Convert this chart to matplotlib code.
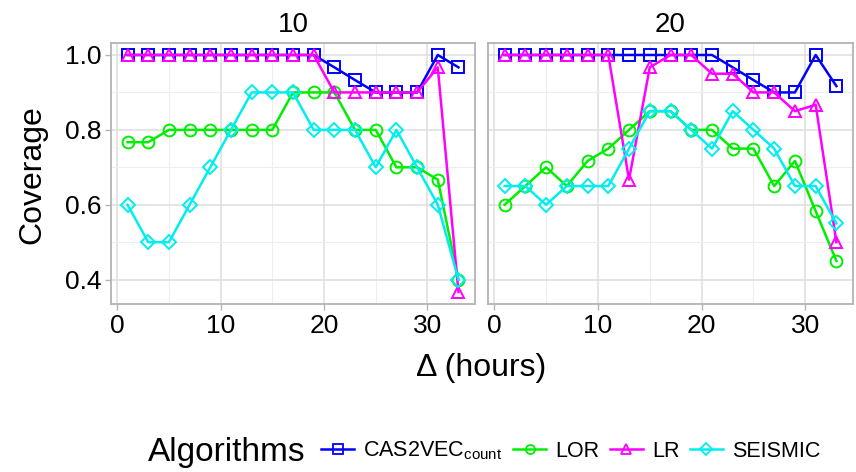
import matplotlib
matplotlib.use("Agg")
import matplotlib.pyplot as plt
from matplotlib.lines import Line2D

plt.rcParams['font.family'] = ['Liberation Sans', 'DejaVu Sans']
plt.rcParams['mathtext.fontset'] = 'custom'
plt.rcParams['mathtext.rm'] = 'Liberation Sans'
plt.rcParams['mathtext.it'] = 'Liberation Sans'

# Window lengths (hours)
delta = [1, 3, 5, 7, 9, 11, 13, 15, 17, 19, 21, 23, 25, 27, 29, 31, 33]

panels = ["10", "20"]
algorithms = ["CAS2VEC", "LOR", "LR", "SEISMIC"]
labels = [r"CAS2VEC$_{\mathrm{count}}$", "LOR", "LR", "SEISMIC"]

# Coverage per panel
cas2vec_10 = [1, 1, 1, 1, 1, 1, 1, 1, 1, 1, 0.967, 0.933, 0.9, 0.9, 0.9, 1.0, 0.967]
lor_10 = [0.767, 0.767, 0.8, 0.8, 0.8, 0.8, 0.8, 0.8, 0.9, 0.9, 0.9, 0.8, 0.8, 0.7, 0.7, 0.667, 0.4]
lr_10 = [1, 1, 1, 1, 1, 1, 1, 1, 1, 1, 0.9, 0.9, 0.9, 0.9, 0.9, 0.967, 0.367]
seismic_10 = [0.6, 0.5, 0.5, 0.6, 0.7, 0.8, 0.9, 0.9, 0.9, 0.8, 0.8, 0.8, 0.7, 0.8, 0.7, 0.6, 0.4]

cas2vec_20 = [1, 1, 1, 1, 1, 1, 1, 1, 1, 1, 1, 0.967, 0.933, 0.9, 0.9, 1.0, 0.917]
lor_20 = [0.6, 0.65, 0.7, 0.65, 0.717, 0.75, 0.8, 0.85, 0.85, 0.8, 0.8, 0.75, 0.75, 0.65, 0.717, 0.583, 0.45]
lr_20 = [1, 1, 1, 1, 1, 1, 0.667, 0.967, 1, 1, 0.95, 0.95, 0.9, 0.9, 0.85, 0.867, 0.5]
seismic_20 = [0.65, 0.65, 0.6, 0.65, 0.65, 0.65, 0.75, 0.85, 0.85, 0.8, 0.75, 0.85, 0.8, 0.75, 0.65, 0.65, 0.55]

series = {
    "10": [cas2vec_10, lor_10, lr_10, seismic_10],
    "20": [cas2vec_20, lor_20, lr_20, seismic_20],
}

colors = ["#0000FF", "#00EE00", "#FF00FF", "#00EEEE"]
markers = ["s", "o", "^", "D"]
msizes = [8, 8.5, 9, 7.5]

W, H = 856, 472
fig = plt.figure(figsize=(W / 100, H / 100), dpi=100)

border = "#B3B3B3"
grid_major = "#DEDEDE"
grid_minor = "#EEEEEE"

boxes = [(111, 43, 475, 304), (488, 43, 853, 304)]
for i, (p, (x0, y0, x1, y1)) in enumerate(zip(panels, boxes)):
    ax = fig.add_axes([x0 / W, 1 - y1 / H, (x1 - x0) / W, (y1 - y0) / H])
    for vals, c, m, ms in zip(series[p], colors, markers, msizes):
        ax.plot(delta, vals, color=c, lw=1.8, marker=m, ms=ms,
                mfc="none", mec=c, mew=1.4, zorder=3)
    ax.set_xlim(-0.6, 34.6)
    ax.set_ylim(0.335, 1.032)
    ax.set_xticks([0, 10, 20, 30])
    ax.set_xticks([5, 15, 25], minor=True)
    ax.set_yticks([0.4, 0.6, 0.8, 1.0])
    ax.set_yticks([0.5, 0.7, 0.9], minor=True)
    ax.grid(True, which="major", color=grid_major, lw=1.1, zorder=0)
    ax.grid(True, which="minor", color=grid_minor, lw=0.8, zorder=0)
    ax.set_axisbelow(True)
    for s in ax.spines.values():
        s.set_color(border)
        s.set_linewidth(1.3)
    ax.tick_params(which="major", direction="out", length=4, width=1.0, color=border,
                   labelsize=19, pad=3)
    ax.tick_params(which="minor", length=0)
    if i == 0:
        ax.set_yticklabels(["0.4", "0.6", "0.8", "1.0"])
    else:
        ax.tick_params(axis="y", which="both", left=False, labelleft=False)
    ax.set_title(p, fontsize=20, pad=8)

fig.text(481 / W, 1 - 368 / H, "Δ (hours)", ha="center", va="center", fontsize=23)
fig.text(32 / W, 1 - 175 / H, "Coverage", ha="center", va="center", rotation=90, fontsize=23)

# Legend: title drawn to the left of a single row of entries
fig.text(148 / W, 1 - 452 / H, "Algorithms", ha="left", va="center", fontsize=24)
handles = [Line2D([0], [0], color=c, lw=1.8, marker=m, ms=6.5, mfc="none", mec=c, mew=1.3)
           for c, m in zip(colors, markers)]
fig.legend(handles, labels, loc="center left", bbox_to_anchor=(321 / W, 1 - 451 / H),
           ncol=4, frameon=False, fontsize=15.5, handlelength=1.55, handletextpad=0.42,
           columnspacing=0.47, borderpad=0, borderaxespad=0)

fig.savefig("out.png", dpi=100)
